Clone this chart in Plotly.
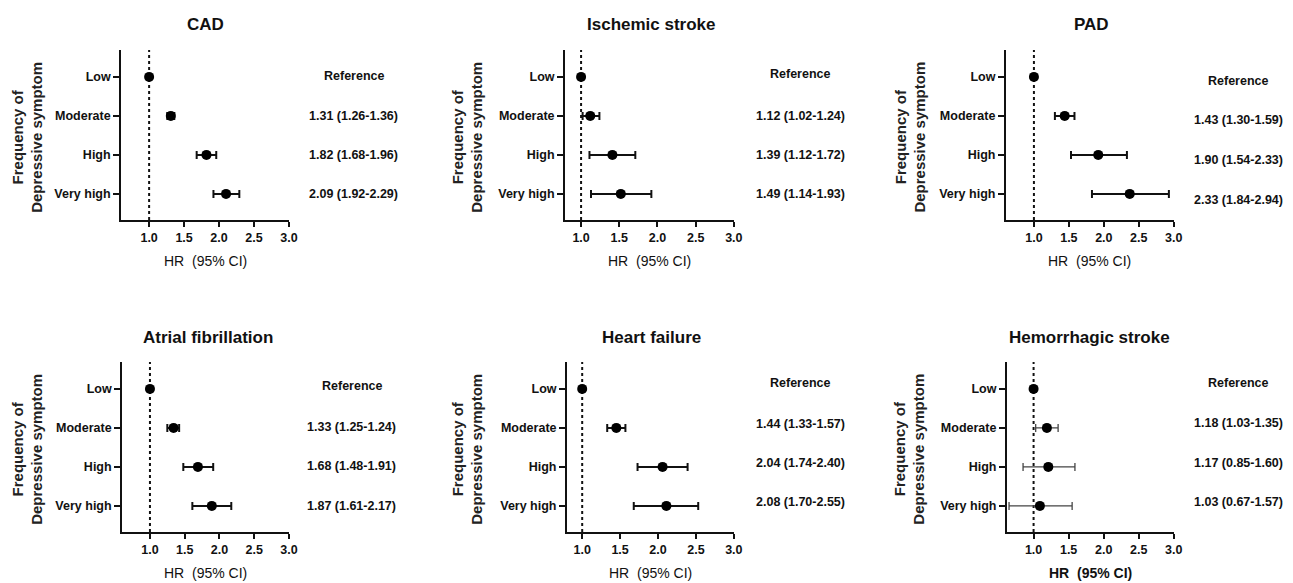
import plotly.graph_objects as go

# ---------------- data ----------------
categories = ["Low", "Moderate", "High", "Very high"]
x_ticks = [1.0, 1.5, 2.0, 2.5, 3.0]
x_tick_text = ["1.0", "1.5", "2.0", "2.5", "3.0"]

titles = ["CAD", "Ischemic stroke", "PAD",
          "Atrial fibrillation", "Heart failure", "Hemorrhagic stroke"]

hr_cad = [1.00, 1.31, 1.82, 2.10]
lo_cad = [1.00, 1.26, 1.68, 1.92]
hi_cad = [1.00, 1.36, 1.96, 2.29]
txt_cad = ["Reference", "1.31 (1.26-1.36)", "1.82 (1.68-1.96)", "2.09 (1.92-2.29)"]

hr_isc = [1.00, 1.12, 1.41, 1.52]
lo_isc = [1.00, 1.02, 1.11, 1.13]
hi_isc = [1.00, 1.24, 1.71, 1.92]
txt_isc = ["Reference", "1.12 (1.02-1.24)", "1.39 (1.12-1.72)", "1.49 (1.14-1.93)"]

hr_pad = [1.00, 1.44, 1.92, 2.37]
lo_pad = [1.00, 1.30, 1.53, 1.83]
hi_pad = [1.00, 1.58, 2.33, 2.93]
txt_pad = ["Reference", "1.43 (1.30-1.59)", "1.90 (1.54-2.33)", "2.33 (1.84-2.94)"]

hr_af = [1.00, 1.34, 1.69, 1.89]
lo_af = [1.00, 1.25, 1.48, 1.61]
hi_af = [1.00, 1.42, 1.91, 2.17]
txt_af = ["Reference", "1.33 (1.25-1.24)", "1.68 (1.48-1.91)", "1.87 (1.61-2.17)"]

hr_hf = [1.00, 1.45, 2.06, 2.11]
lo_hf = [1.00, 1.33, 1.73, 1.68]
hi_hf = [1.00, 1.57, 2.39, 2.53]
txt_hf = ["Reference", "1.44 (1.33-1.57)", "2.04 (1.74-2.40)", "2.08 (1.70-2.55)"]

hr_hem = [1.00, 1.19, 1.21, 1.09]
lo_hem = [1.00, 1.03, 0.85, 0.65]
hi_hem = [1.00, 1.35, 1.59, 1.55]
txt_hem = ["Reference", "1.18 (1.03-1.35)", "1.17 (0.85-1.60)", "1.03 (0.67-1.57)"]

series = [
    (hr_cad, lo_cad, hi_cad, txt_cad),
    (hr_isc, lo_isc, hi_isc, txt_isc),
    (hr_pad, lo_pad, hi_pad, txt_pad),
    (hr_af, lo_af, hi_af, txt_af),
    (hr_hf, lo_hf, hi_hf, txt_hf),
    (hr_hem, lo_hem, hi_hem, txt_hem),
]

# ---------------- layout (pixel geometry) ----------------
W, H = 1293, 583
FONT = "Liberation Sans, Arial, sans-serif"

def fx(p):
    return p / W

def fy(p):
    return 1 - p / H

layouts = [
    dict(xd=(122, 291), yd=(50, 220), xr=[0.60, 3.0], tc=(207, 24), ylc=27, tx=356, ty=[76, 116, 155, 194], thin=False),
    dict(xd=(569, 739), yd=(50, 220), xr=[0.79, 3.0], tc=(656, 25), ylc=470, tx=806, ty=[74, 116, 155, 194], thin=False),
    dict(xd=(1013, 1182), yd=(50, 220), xr=[0.60, 3.0], tc=(1099, 24), ylc=916, tx=1247, ty=[81, 120, 160, 200], thin=False),
    dict(xd=(123, 291), yd=(362, 532), xr=[0.60, 3.0], tc=(209, 337), ylc=27, tx=354, ty=[386, 427, 466, 506], thin=False),
    dict(xd=(571, 739), yd=(362, 532), xr=[0.80, 3.0], tc=(656, 337), ylc=470, tx=806, ty=[383, 424, 463, 502], thin=False),
    dict(xd=(1014, 1182), yd=(362, 532), xr=[0.62, 3.0], tc=(1097, 337), ylc=915, tx=1247, ty=[383, 423, 463, 502], thin=True),
]

fig = go.Figure()
annotations = []
shapes = []
ypos = list(range(len(categories)))

for i, ((hr, lo, hi, txt), L) in enumerate(zip(series, layouts)):
    n = i + 1
    xa = "x" if n == 1 else f"x{n}"
    ya = "y" if n == 1 else f"y{n}"
    plus = [h - v for h, v in zip(hi, hr)]
    minus = [v - l for v, l in zip(hr, lo)]
    ecol = "#444444" if L["thin"] else "#111111"
    fig.add_trace(go.Scatter(
        x=hr, y=ypos, mode="markers", xaxis=xa, yaxis=ya, showlegend=False,
        marker=dict(symbol="circle", size=10, color="#000000"),
        error_x=dict(type="data", symmetric=False, array=plus, arrayminus=minus,
                     color=ecol, thickness=1.3 if L["thin"] else 2, width=4),
        hoverinfo="skip",
    ))
    axis_common = dict(showline=True, linecolor="#111111", linewidth=2,
                       ticks="outside", tickcolor="#111111", tickwidth=2,
                       showgrid=False, zeroline=False,
                       tickfont=dict(family=FONT, size=12.5, color="#111111", weight="bold"))
    fig.update_layout(**{
        ("xaxis" if n == 1 else f"xaxis{n}"): dict(
            domain=[fx(L["xd"][0]), fx(L["xd"][1])], range=L["xr"], anchor=ya,
            tickvals=x_ticks, ticktext=x_tick_text, ticklen=5, **axis_common),
        ("yaxis" if n == 1 else f"yaxis{n}"): dict(
            domain=[fy(L["yd"][1]), fy(L["yd"][0])], range=[3.67, -0.69], anchor=xa,
            tickvals=ypos, ticktext=categories, ticklen=6, **axis_common),
    })
    shapes.append(dict(type="line", xref=xa, yref=f"{ya} domain", x0=1, x1=1, y0=0, y1=1,
                       line=dict(color="#111111", width=2, dash="dot"), layer="below"))
    annotations.append(dict(text=f"<b>{titles[i]}</b>", xref="paper", yref="paper",
                            x=fx(L["tc"][0]), y=fy(L["tc"][1]), showarrow=False,
                            xanchor="center", yanchor="middle",
                            font=dict(family=FONT, size=17, color="#111111")))
    xcen = (L["xd"][0] + L["xd"][1]) / 2
    xt = "<b>HR\u00a0 (95% CI)</b>" if L["thin"] else "HR\u00a0 (95% CI)"
    annotations.append(dict(text=xt, xref="paper", yref="paper",
                            x=fx(xcen), y=fy(L["yd"][1] + 41), showarrow=False,
                            xanchor="center", yanchor="middle",
                            font=dict(family=FONT, size=14, color="#111111")))
    ycen = (L["yd"][0] + L["yd"][1]) / 2 + 2
    annotations.append(dict(text="<b>Frequency of<br>Depressive symptom</b>", xref="paper", yref="paper",
                            x=fx(L["ylc"]), y=fy(ycen), showarrow=False, textangle=-90,
                            xanchor="center", yanchor="middle",
                            font=dict(family=FONT, size=15, color="#222222")))
    for t, yy in zip(txt, L["ty"]):
        annotations.append(dict(text=f"<b>{t}</b>", xref="paper", yref="paper",
                                x=fx(L["tx"]), y=fy(yy), showarrow=False,
                                xanchor="center", yanchor="middle",
                                font=dict(family=FONT, size=12.5, color="#111111")))

fig.update_layout(width=W, height=H, margin=dict(l=0, r=0, t=0, b=0),
                  paper_bgcolor="white", plot_bgcolor="white",
                  annotations=annotations, shapes=shapes,
                  font=dict(family=FONT, color="#111111"))

fig.write_html("out.html")
